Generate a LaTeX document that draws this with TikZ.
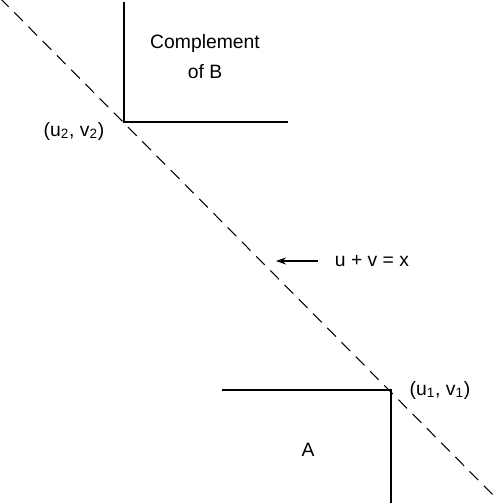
\documentclass[tikz,border=0pt]{standalone}
\usepackage{fontspec}
\setmainfont{Liberation Sans}
\usetikzlibrary{arrows.meta,positioning}

\begin{document}
\begin{tikzpicture}[
  x=0.02cm,y=-0.02cm,
  edge/.style={line width=0.6pt,black},
  boundary/.style={line width=0.6pt,black,dash pattern=on 7pt off 4.5pt},
  pointer/.style={-{Stealth[length=2mm,width=1.4mm]},line width=0.6pt},
  tag/.style={font=\fontsize{11}{13}\selectfont,inner sep=1pt},
]
\useasboundingbox (0,0) rectangle (493,503);

% corner points
\coordinate (p2) at (124,122);
\coordinate (p1) at (391,390);

% diagonal u+v=x
\coordinate (dtop) at (0,-2);
\coordinate (dbot) at (493,495);
\draw[boundary] (dtop) -- (dbot);

% complement of B
\coordinate (btop) at (124,2);
\coordinate (bright) at (288,122);
\draw[edge] (btop) -- (p2) -- (bright);
\node[tag,align=center] (compl) at (205,57) {Complement\\[4pt]of B};
\node[tag] (lab2) at (74,131) {(u\textsubscript{2}, v\textsubscript{2})};

% set A
\coordinate (aleft) at (222,390);
\coordinate (abot) at (391,503);
\draw[edge] (aleft) -- (p1) -- (abot);
\node[tag] (lab1) at (440,390) {(u\textsubscript{1}, v\textsubscript{1})};
\node[tag] (seta) at (308,450) {A};

% line label
\node[tag] (eq) at (372,261) {u + v = x};
\coordinate (tip) at (276,261);
\draw[pointer,shorten <=0.3cm] (eq.west) -- (tip);

\end{tikzpicture}
\end{document}
